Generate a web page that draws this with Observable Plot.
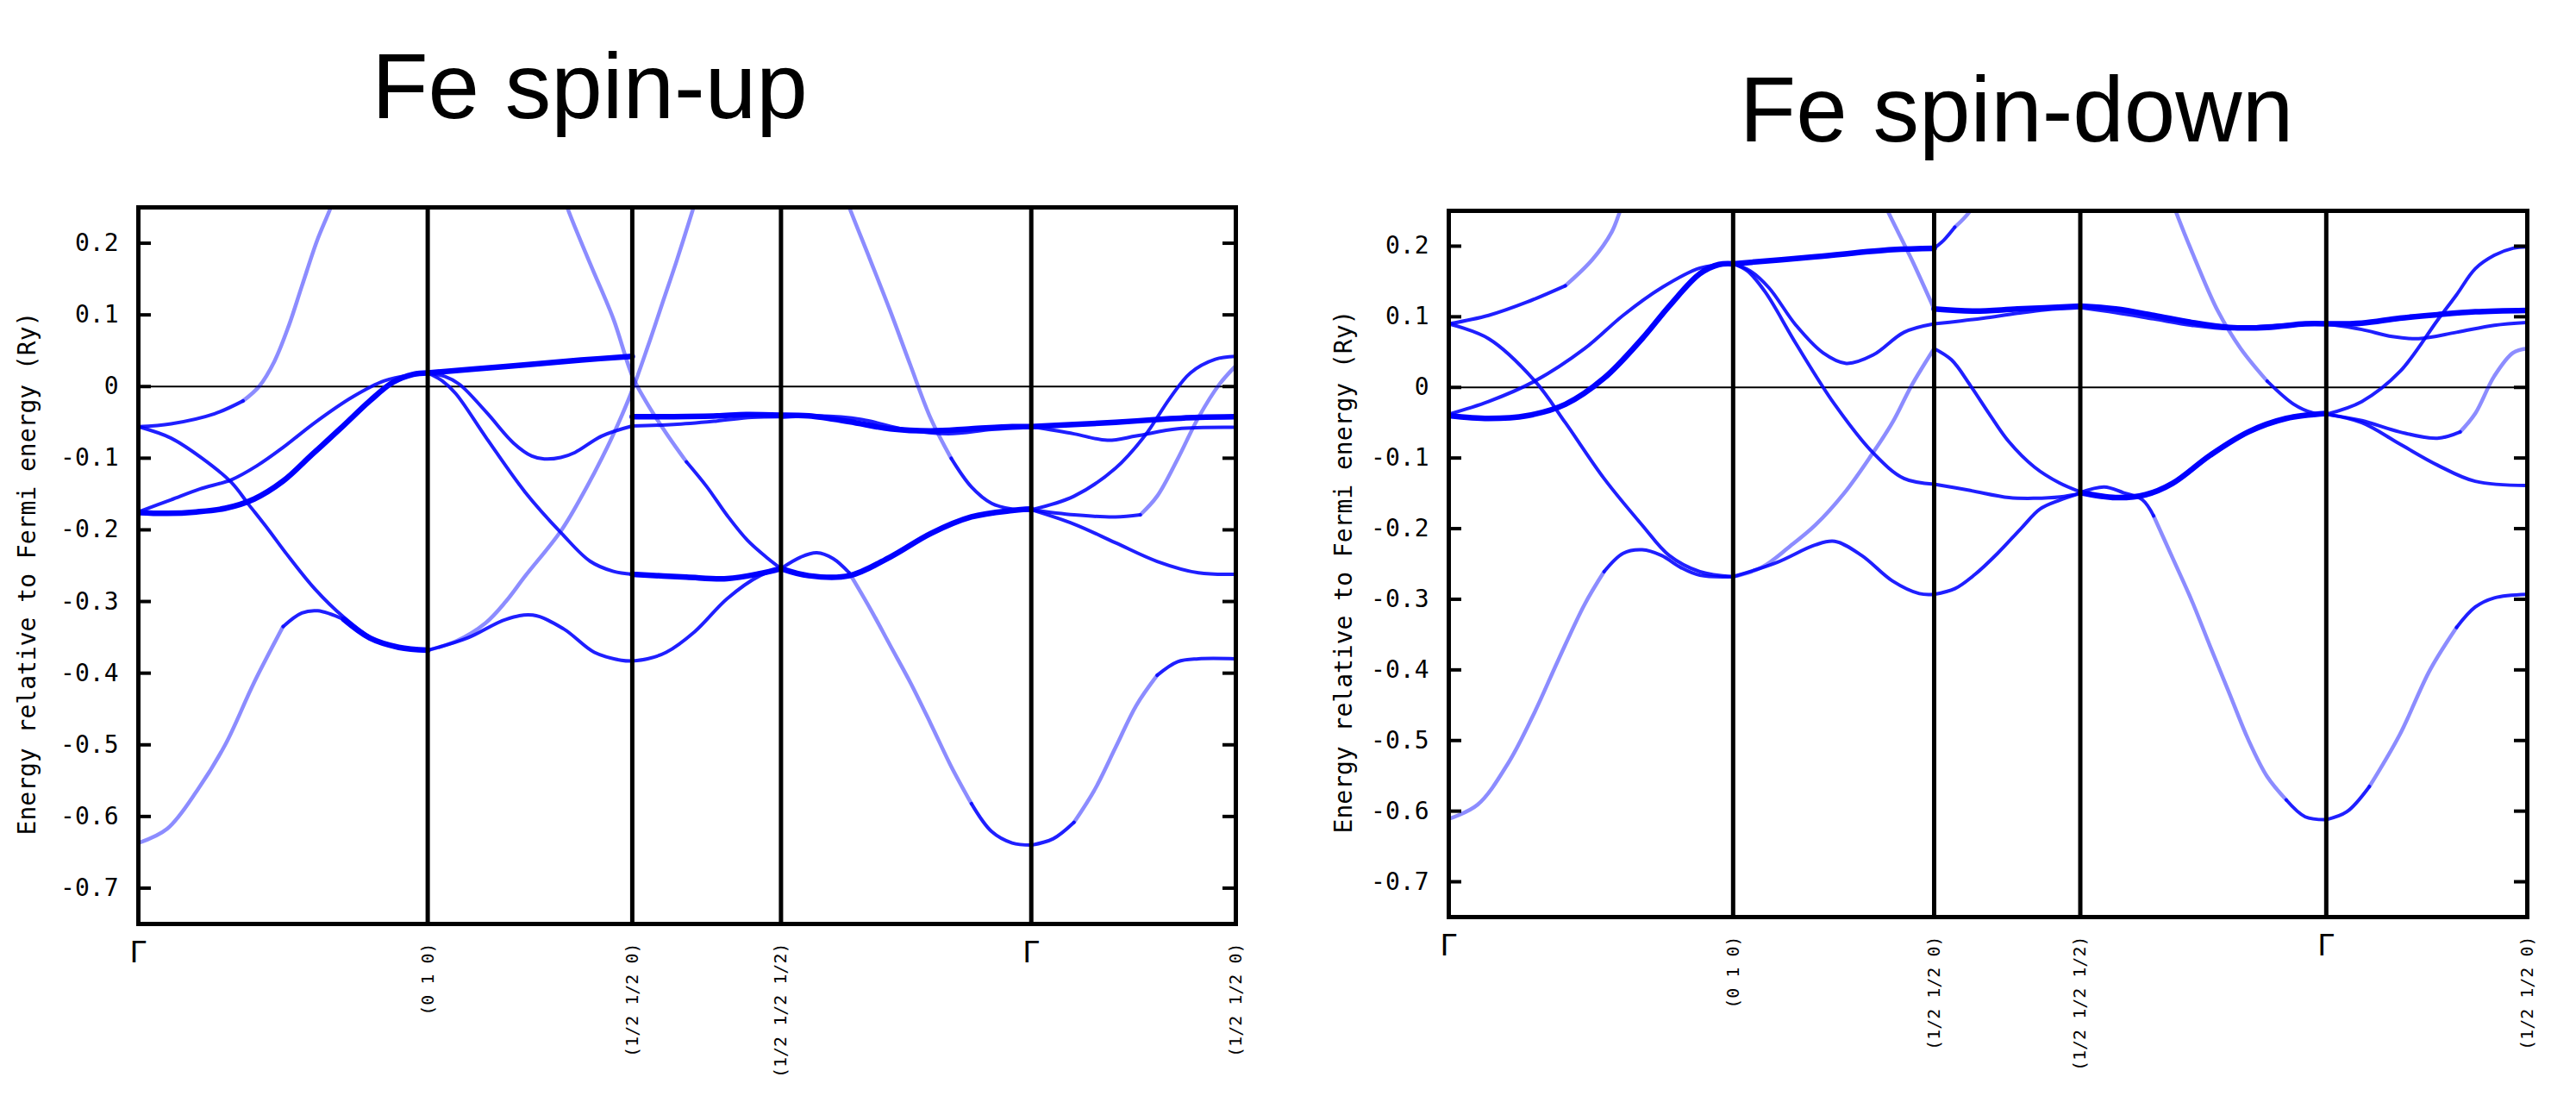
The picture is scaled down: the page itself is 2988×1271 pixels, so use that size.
<!DOCTYPE html>
<html><head><meta charset="utf-8">
<script src="https://cdn.jsdelivr.net/npm/d3@7"></script>
<script src="https://cdn.jsdelivr.net/npm/@observablehq/plot@0.6"></script>
<style>
body{margin:0;background:#fff;}
#page{position:relative;width:2988px;height:1271px;overflow:hidden;background:#fff;}
.title{position:absolute;width:800px;text-align:center;font-family:"Liberation Sans",Arial,sans-serif;font-size:107px;line-height:107px;color:#000;white-space:nowrap;}
.panel{position:absolute;}
.panel svg text{font-family:"DejaVu Sans Mono",monospace !important;}
</style></head><body><div id="page">
<div class="title" style="left:284px;top:47px">Fe spin-up</div>
<div class="title" style="left:1939px;top:74px">Fe spin-down</div>
<div class="panel" id="up" style="left:0;top:200px"></div>
<div class="panel" id="down" style="left:1500px;top:204px"></div>
</div>
<script>
// k-path positions of the high-symmetry points and their labels
const kTicks = [0, 1, 1.707, 2.221, 3.086, 3.793];
const kLabels = ["Γ", "(0 1 0)", "(1/2 1/2 0)", "(1/2 1/2 1/2)", "Γ", "(1/2 1/2 0)"];
const yTicks = [0.2, 0.1, 0, -0.1, -0.2, -0.3, -0.4, -0.5, -0.6, -0.7];
const yDomain = [-0.75, 0.25];
const yLabel = "Energy relative to Fermi energy (Ry)";

// Bands: [k, E (Ry), weight 0=faint 1=medium 2=strong]
// ---- Fe spin-up ----
const up1 = [[0,-0.637,0],[0.1,-0.617,0],[0.206,-0.562,0],[0.3,-0.5,0],[0.4,-0.413,0],[0.5,-0.335,1],[0.565,-0.316,1],[0.62,-0.313,1],[0.71,-0.325,2],[0.8,-0.351,2],[0.9,-0.364,2],[1,-0.368,2]];
const up2 = [[0,-0.056,1],[0.113,-0.072,1],[0.22,-0.1,1],[0.322,-0.134,1],[0.382,-0.165,1],[0.45,-0.2,1],[0.511,-0.233,1],[0.611,-0.283,1],[0.71,-0.322,1],[0.81,-0.352,1],[0.9,-0.364,1],[1,-0.368,1]];
const up3 = [[0,-0.056,1],[0.113,-0.052,1],[0.263,-0.038,1],[0.362,-0.02,0],[0.417,0,0],[0.47,0.035,0],[0.52,0.085,0],[0.565,0.14,0],[0.618,0.204,0],[0.665,0.25,0],[0.7,0.29,0]];
const up4 = [[0,-0.175,1],[0.113,-0.158,1],[0.212,-0.143,1],[0.322,-0.13,1],[0.412,-0.11,1],[0.5,-0.085,1],[0.611,-0.05,1],[0.738,-0.015,1],[0.85,0.008,1],[0.96,0.017,1],[1,0.019,1]];
const up5 = [[0,-0.176,2],[0.1,-0.177,2],[0.2,-0.175,2],[0.3,-0.17,2],[0.4,-0.157,2],[0.5,-0.132,2],[0.6,-0.095,2],[0.7,-0.058,2],[0.8,-0.02,2],[0.88,0.006,2],[0.95,0.017,2],[1,0.019,2]];
const up6 = [[1,0.019,2],[1.27,0.028,2],[1.53,0.037,2],[1.707,0.042,2]];
const up7 = [[1,0.019,1],[1.06,0.014,1],[1.11,0.003,1],[1.203,-0.036,1],[1.297,-0.079,1],[1.36,-0.097,1],[1.403,-0.101,1],[1.46,-0.099,1],[1.509,-0.092,1],[1.602,-0.069,1],[1.707,-0.055,1]];
const up8 = [[1,0.019,1],[1.05,0.008,1],[1.097,-0.01,1],[1.203,-0.072,1],[1.336,-0.147,1],[1.463,-0.205,1],[1.562,-0.244,1],[1.642,-0.258,1],[1.707,-0.262,1]];
const up9 = [[1,-0.368,1],[1.137,-0.351,1],[1.27,-0.325,1],[1.363,-0.319,1],[1.469,-0.338,1],[1.576,-0.371,1],[1.669,-0.382,1],[1.707,-0.383,1]];
const up10 = [[1,-0.368,0],[1.1,-0.355,0],[1.2,-0.33,0],[1.27,-0.3,0],[1.336,-0.265,0],[1.463,-0.2,0],[1.55,-0.14,0],[1.602,-0.1,0],[1.655,-0.055,0],[1.707,-0.005,0],[1.76,0.055,0],[1.81,0.115,0],[1.86,0.175,0],[1.915,0.245,0],[1.95,0.29,0]];
const up11 = [[1.45,0.29,0],[1.483,0.249,0],[1.562,0.171,0],[1.642,0.094,0],[1.707,0.015,0],[1.753,-0.02,0],[1.824,-0.065,0],[1.894,-0.105,1],[1.965,-0.14,1],[2.035,-0.18,1],[2.106,-0.215,1],[2.176,-0.24,1],[2.221,-0.254,1]];
const up12 = [[1.707,-0.042,2],[1.85,-0.042,2],[2.0,-0.041,2],[2.1,-0.039,2],[2.221,-0.04,2]];
const up13 = [[1.707,-0.055,1],[1.85,-0.053,1],[2.0,-0.048,1],[2.12,-0.043,1],[2.221,-0.042,1]];
const up14 = [[1.707,-0.262,2],[1.894,-0.266,2],[2.035,-0.268,2],[2.148,-0.261,2],[2.221,-0.254,2]];
const up15 = [[1.707,-0.383,1],[1.76,-0.38,1],[1.824,-0.371,1],[1.923,-0.342,1],[2.035,-0.296,1],[2.148,-0.264,1],[2.221,-0.254,1]];
const up16 = [[2.221,-0.04,2],[2.317,-0.041,2],[2.457,-0.049,2],[2.598,-0.059,2],[2.739,-0.062,2],[2.879,-0.059,2],[3.02,-0.056,2],[3.086,-0.056,2]];
const up17 = [[2.221,-0.043,1],[2.35,-0.041,1],[2.5,-0.046,1],[2.65,-0.06,1],[2.8,-0.066,1],[2.95,-0.06,1],[3.086,-0.057,1]];
const up18 = [[2.221,-0.254,1],[2.289,-0.238,1],[2.345,-0.232,1],[2.401,-0.24,1],[2.457,-0.26,0],[2.528,-0.309,0],[2.598,-0.361,0],[2.668,-0.413,0],[2.739,-0.471,0],[2.809,-0.53,0],[2.879,-0.582,1],[2.949,-0.621,1],[3.02,-0.637,1],[3.086,-0.64,1]];
const up19 = [[2.221,-0.254,2],[2.317,-0.264,2],[2.457,-0.264,2],[2.598,-0.238,2],[2.739,-0.205,2],[2.879,-0.182,2],[3.02,-0.173,2],[3.086,-0.171,2]];
const up20 = [[2.42,0.29,0],[2.457,0.25,0],[2.528,0.178,0],[2.598,0.106,0],[2.668,0.03,0],[2.739,-0.045,0],[2.809,-0.1,1],[2.879,-0.14,1],[2.949,-0.163,1],[3.02,-0.171,1],[3.086,-0.173,1]];
const up21 = [[3.086,-0.056,2],[3.234,-0.053,2],[3.377,-0.05,2],[3.521,-0.046,2],[3.664,-0.043,2],[3.793,-0.042,2]];
const up22 = [[3.086,-0.056,1],[3.234,-0.066,1],[3.349,-0.075,1],[3.449,-0.069,1],[3.592,-0.059,1],[3.793,-0.057,1]];
const up23 = [[3.086,-0.172,1],[3.234,-0.153,1],[3.377,-0.114,1],[3.478,-0.069,1],[3.564,-0.017,1],[3.636,0.019,1],[3.722,0.038,1],[3.793,0.042,1]];
const up24 = [[3.086,-0.172,1],[3.234,-0.179,1],[3.377,-0.182,1],[3.463,-0.179,0],[3.521,-0.153,0],[3.592,-0.101,0],[3.664,-0.043,0],[3.736,0.003,0],[3.793,0.029,0]];
const up25 = [[3.086,-0.172,1],[3.234,-0.192,1],[3.377,-0.218,1],[3.521,-0.244,1],[3.664,-0.26,1],[3.793,-0.262,1]];
const up26 = [[3.086,-0.64,1],[3.162,-0.631,1],[3.234,-0.608,0],[3.306,-0.562,0],[3.377,-0.504,0],[3.449,-0.445,0],[3.521,-0.403,1],[3.592,-0.384,1],[3.664,-0.38,1],[3.793,-0.38,1]];

// ---- Fe spin-down ----
const dn1 = [[0,-0.611,0],[0.101,-0.591,0],[0.209,-0.532,0],[0.303,-0.459,0],[0.384,-0.387,0],[0.478,-0.307,0],[0.546,-0.261,1],[0.613,-0.235,1],[0.68,-0.23,1],[0.748,-0.238,1],[0.816,-0.255,1],[0.883,-0.266,1],[1,-0.268,1]];
const dn2 = [[0,0.09,1],[0.14,0.069,1],[0.303,0.009,1],[0.41,-0.05,1],[0.546,-0.129,1],[0.68,-0.195,1],[0.775,-0.238,1],[0.883,-0.261,1],[1,-0.268,1]];
const dn3 = [[0,-0.038,1],[0.14,-0.02,1],[0.303,0.009,1],[0.478,0.055,1],[0.613,0.102,1],[0.748,0.141,1],[0.883,0.169,1],[1,0.175,1]];
const dn4 = [[0,-0.04,2],[0.14,-0.044,2],[0.276,-0.04,2],[0.41,-0.024,2],[0.546,0.013,2],[0.68,0.069,2],[0.775,0.115,2],[0.883,0.161,2],[0.95,0.174,2],[1,0.175,2]];
const dn5 = [[0,0.09,1],[0.14,0.102,1],[0.276,0.121,1],[0.41,0.144,0],[0.505,0.181,0],[0.573,0.22,0],[0.6,0.247,0],[0.63,0.28,0]];
const dn6 = [[1,0.175,2],[1.289,0.185,2],[1.56,0.195,2],[1.707,0.197,2]];
const dn7 = [[1,0.175,1],[1.06,0.165,1],[1.126,0.141,1],[1.221,0.088,1],[1.316,0.049,1],[1.398,0.034,1],[1.493,0.046,1],[1.601,0.078,1],[1.707,0.09,1]];
const dn8 = [[1,0.175,1],[1.05,0.165,1],[1.113,0.135,1],[1.221,0.062,1],[1.357,-0.024,1],[1.493,-0.093,1],[1.601,-0.129,1],[1.707,-0.137,1]];
const dn9 = [[1,-0.268,1],[1.153,-0.248,1],[1.289,-0.223,1],[1.357,-0.218,1],[1.452,-0.238,1],[1.56,-0.274,1],[1.655,-0.292,1],[1.707,-0.293,1]];
const dn10 = [[1,-0.268,0],[1.1,-0.255,0],[1.2,-0.225,0],[1.289,-0.195,0],[1.39,-0.15,0],[1.486,-0.096,0],[1.56,-0.05,0],[1.628,0.003,0],[1.707,0.055,0]];
const dn11 = [[1.51,0.28,0],[1.547,0.247,0],[1.628,0.181,0],[1.707,0.111,0]];
const dn12 = [[1.707,0.197,1],[1.74,0.208,1],[1.78,0.227,0],[1.834,0.25,0],[1.87,0.28,0]];
const dn13 = [[1.707,0.111,2],[1.85,0.108,2],[2.0,0.111,2],[2.221,0.115,2]];
const dn14 = [[1.707,0.09,1],[1.8,0.094,1],[1.88,0.098,1],[2.0,0.105,1],[2.1,0.11,1],[2.221,0.113,1]];
const dn15 = [[1.707,0.055,1],[1.768,0.039,1],[1.834,0.003,1],[1.9,-0.037,1],[1.97,-0.077,1],[2.06,-0.113,1],[2.146,-0.135,1],[2.221,-0.148,1]];
const dn16 = [[1.707,-0.137,1],[1.834,-0.146,1],[1.97,-0.156,1],[2.06,-0.157,1],[2.15,-0.155,1],[2.221,-0.15,1]];
const dn17 = [[1.707,-0.293,1],[1.78,-0.285,1],[1.85,-0.265,1],[1.93,-0.235,1],[2.012,-0.2,1],[2.08,-0.172,1],[2.146,-0.16,1],[2.221,-0.15,1]];
const dn18 = [[2.221,0.115,2],[2.345,0.111,2],[2.479,0.102,2],[2.612,0.092,2],[2.745,0.085,2],[2.878,0.085,2],[3.012,0.09,2],[3.086,0.09,2]];
const dn19 = [[2.221,0.113,1],[2.345,0.106,1],[2.479,0.097,1],[2.612,0.088,1],[2.745,0.083,1],[2.878,0.087,1],[3.086,0.091,1]];
const dn20 = [[2.221,-0.149,1],[2.305,-0.141,1],[2.372,-0.149,1],[2.439,-0.159,1],[2.479,-0.182,0],[2.545,-0.241,0],[2.612,-0.301,0],[2.678,-0.367,0],[2.745,-0.433,0],[2.812,-0.499,0],[2.878,-0.551,0],[2.945,-0.584,1],[3.012,-0.608,1],[3.086,-0.612,1]];
const dn21 = [[2.221,-0.149,2],[2.345,-0.156,2],[2.45,-0.152,2],[2.545,-0.136,2],[2.678,-0.096,2],[2.812,-0.063,2],[2.945,-0.044,2],[3.086,-0.037,2]];
const dn22 = [[2.53,0.28,0],[2.559,0.247,0],[2.625,0.181,0],[2.705,0.108,0],[2.785,0.055,0],[2.878,0.009,1],[2.972,-0.024,1],[3.038,-0.036,1],[3.086,-0.038,1]];
const dn23 = [[3.086,0.09,2],[3.211,0.091,2],[3.344,0.098,2],[3.477,0.103,2],[3.61,0.107,2],[3.793,0.109,2]];
const dn24 = [[3.086,0.09,1],[3.211,0.082,1],[3.318,0.072,1],[3.411,0.069,1],[3.544,0.078,1],[3.677,0.088,1],[3.793,0.092,1]];
const dn25 = [[3.086,-0.038,1],[3.211,-0.02,1],[3.344,0.022,1],[3.477,0.095,1],[3.544,0.131,1],[3.61,0.168,1],[3.677,0.187,1],[3.743,0.197,1],[3.793,0.199,1]];
const dn26 = [[3.086,-0.038,1],[3.211,-0.047,1],[3.344,-0.063,1],[3.477,-0.072,1],[3.557,-0.063,0],[3.61,-0.037,0],[3.677,0.016,0],[3.743,0.049,0],[3.793,0.055,0]];
const dn27 = [[3.086,-0.038,1],[3.211,-0.05,1],[3.344,-0.08,1],[3.477,-0.11,1],[3.61,-0.133,1],[3.793,-0.139,1]];
const dn28 = [[3.086,-0.612,1],[3.158,-0.601,1],[3.238,-0.565,0],[3.344,-0.492,0],[3.451,-0.4,0],[3.544,-0.34,1],[3.61,-0.311,1],[3.677,-0.298,1],[3.793,-0.293,1]];

const upBands = [up1,up2,up3,up4,up5,up6,up7,up8,up9,up10,up11,up12,up13,up14,up15,up16,up17,up18,up19,up20,up21,up22,up23,up24,up25,up26];
const downBands = [dn1,dn2,dn3,dn4,dn5,dn6,dn7,dn8,dn9,dn10,dn11,dn12,dn13,dn14,dn15,dn16,dn17,dn18,dn19,dn20,dn21,dn22,dn23,dn24,dn25,dn26,dn27,dn28];

const lineStyles = {
  0: {stroke: "#0000ff", strokeWidth: 4.5, strokeOpacity: 0.45},
  1: {stroke: "#0000ff", strokeWidth: 4, strokeOpacity: 0.88},
  2: {stroke: "#0000ff", strokeWidth: 6.5, strokeOpacity: 1}
};

// split each band into runs of constant weight
function rowsOf(bands) {
  const rows = [];
  bands.forEach((pts, b) => {
    let run = 0, cur = null;
    for (let i = 0; i < pts.length - 1; i++) {
      const w = pts[i][2];
      if (w !== cur) { run++; cur = w; rows.push({id: b + "-" + run, k: pts[i][0], E: pts[i][1], w}); }
      rows.push({id: b + "-" + run, k: pts[i + 1][0], E: pts[i + 1][1], w});
    }
  });
  return rows;
}

function panel(bands, o) {
  const rows = rowsOf(bands);
  const kEnd = kTicks[kTicks.length - 1];
  const plotW = o.width - o.marginLeft - o.marginRight;
  const tickK = 15 * kEnd / plotW;
  const labelRows = kTicks.map((k, i) => ({k, label: kLabels[i]}));
  const mono = "DejaVu Sans Mono";
  return Plot.plot({
    width: o.width, height: o.height,
    marginLeft: o.marginLeft, marginRight: o.marginRight, marginTop: o.marginTop, marginBottom: o.marginBottom,
    x: {domain: [0, kEnd], axis: null},
    y: {domain: yDomain, ticks: yTicks, tickSize: 0, tickPadding: 23, tickFormat: d => String(d), label: null},
    style: {fontFamily: mono, fontSize: "28px", color: "#000", background: "transparent", overflow: "visible"},
    marks: [
      Plot.ruleY([0], {stroke: "black", strokeWidth: 2}),
      ...[0, 1, 2].map(w => Plot.line(rows.filter(r => r.w === w), {x: "k", y: "E", z: "id", curve: "catmull-rom", clip: true, ...lineStyles[w]})),
      Plot.ruleX(kTicks.slice(1, -1), {stroke: "black", strokeWidth: 5}),
      Plot.ruleY(yTicks, {x1: 0, x2: tickK, stroke: "black", strokeWidth: 4}),
      Plot.ruleY(yTicks, {x1: kEnd - tickK, x2: kEnd, stroke: "black", strokeWidth: 4}),
      Plot.frame({stroke: "black", strokeWidth: 5}),
      Plot.text(labelRows.filter(r => r.label === "Γ"), {x: "k", text: "label", frameAnchor: "bottom", lineAnchor: "top", dy: 20, fontSize: 34, fontFamily: mono, fill: "black"}),
      Plot.text(labelRows.filter(r => r.label !== "Γ"), {x: "k", text: "label", frameAnchor: "bottom", rotate: -90, textAnchor: "end", lineAnchor: "middle", dy: 22, fontSize: 20, fontFamily: mono, fill: "black"}),
      Plot.text([yLabel], {text: d => d, frameAnchor: "left", dx: o.labelDx, dy: 9, rotate: -90, textAnchor: "middle", lineAnchor: "middle", fontSize: 28, fontFamily: mono, fill: "black"})
    ]
  });
}

document.getElementById("up").append(panel(upBands, {width: 1480, height: 1071, marginLeft: 160, marginRight: 47, marginTop: 40, marginBottom: 200, labelDx: -128}));
document.getElementById("down").append(panel(downBands, {width: 1488, height: 1059, marginLeft: 180, marginRight: 57, marginTop: 40, marginBottom: 200, labelDx: -121}));
</script>
</body></html>
